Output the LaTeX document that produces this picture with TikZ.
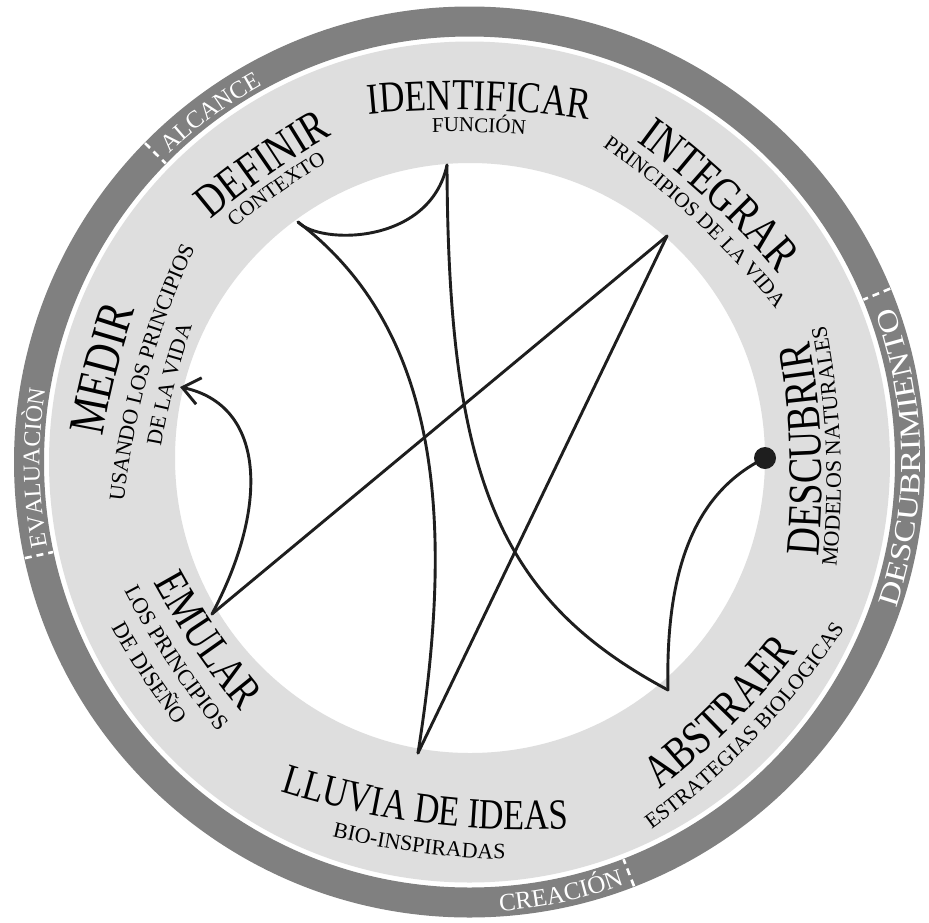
\documentclass[tikz,border=0pt]{standalone}
\usepackage{fontspec}
\setmainfont{Liberation Serif}
\newfontfamily\condf[FakeStretch=0.8]{Liberation Serif}
\newfontfamily\widef[FakeStretch=1.2]{Liberation Serif}
\usetikzlibrary{calc,decorations.text,arrows.meta}
\definecolor{ringdark}{HTML}{808080}
\definecolor{ringlight}{HTML}{DEDEDE}
\definecolor{ink}{HTML}{1E1E1E}
% #1 angle, #2 baseline radius, #3 dir (1 = clockwise, tops outward; -1 = ccw, tops inward),
% #4 half span, #5 curvature radius, #6 format, #7 text
\newcommand\arclabel[7]{%
  \pgfmathsetmacro\aS{#1+#3*#4}%
  \pgfmathsetmacro\aE{#1-#3*#4}%
  \path[decorate,decoration={text along path,text align=center,text={|#6|#7}}]
    ($(C)+(#1:#2-#5)+(\aS:#5)$) arc[start angle=\aS,end angle=\aE,radius=#5];
}
\newcommand\sepmark[1]{%
  \draw[sepst] ($(C)+(#1:455)$) -- ($(C)+(#1:426)$);
}
\begin{document}
\begin{tikzpicture}[x=1pt,y=1pt,
  conn/.style={ink,line width=2.9pt,line cap=round},
  sepst/.style={white,line width=2.6pt,dash pattern=on 7pt off 5pt},
  dotst/.style={circle,fill=ink,minimum size=22pt,inner sep=0pt}]
\useasboundingbox (0,0) rectangle (929,-922);
\fill[white] (0,0) rectangle (929,-922);
\coordinate (C) at (469.5,-462);
\coordinate (Ci) at (470,-458);
% rings
\fill[ringdark,even odd rule] (C) circle (455.5) (C) circle (425.5);
\fill[ringlight,even odd rule] (C) circle (420.5) (Ci) circle (295);
% separators
\sepmark{135.5}
\sepmark{22.4}
\sepmark{-68.8}
\sepmark{192.2}
% ring labels
\arclabel{126.5}{430}{1}{30}{430}{\color{white}\fontsize{24.5}{28}\selectfont}{ALCANCE}
\arclabel{180.8}{430}{1}{30}{430}{\color{white}\fontsize{24}{28}\selectfont}{EVALUACIÒN}
\arclabel{-78}{450}{-1}{30}{450}{\color{white}\fontsize{25}{28}\selectfont}{CREACIÓN}
\arclabel{0.6}{451}{-1}{40}{451}{\color{white}\widef\fontsize{29}{32}\selectfont}{DESCUBRIMIENTO}
% stage labels
\arclabel{88.5}{352}{1}{16}{900}{\condf\fontsize{44}{48}\selectfont}{IDENTIFICAR}
\arclabel{88.4}{330}{1}{16}{900}{\fontsize{21}{24}\selectfont}{FUNCIÓN}
\arclabel{124.8}{350}{1}{16}{800}{\condf\fontsize{47}{52}\selectfont}{DEFINIR}
\arclabel{125.3}{329}{1}{16}{800}{\fontsize{21}{24}\selectfont}{CONTEXTO}
\arclabel{47}{354}{1}{16}{800}{\condf\fontsize{48}{52}\selectfont}{INTEGRAR}
\arclabel{46.8}{330}{1}{16}{800}{\fontsize{21}{24}\selectfont}{PRINCIPIOS DE LA VIDA}
\arclabel{165.8}{364}{1}{16}{800}{\condf\fontsize{51}{56}\selectfont}{MEDIR}
\arclabel{164.3}{333}{1}{16}{800}{\fontsize{22}{26}\selectfont}{USANDO LOS PRINCIPIOS}
\arclabel{165.5}{305}{1}{16}{800}{\fontsize{22}{26}\selectfont}{DE LA VIDA}
\arclabel{2.2}{352}{-1}{16}{800}{\condf\fontsize{48}{52}\selectfont}{DESCUBRIR}
\arclabel{2.5}{371}{-1}{16}{800}{\fontsize{22}{26}\selectfont}{MODELOS NATURALES}
\arclabel{-44.9}{372}{-1}{16}{800}{\condf\fontsize{47}{52}\selectfont}{ABSTRAER}
\arclabel{-43.8}{398}{-1}{16}{800}{\fontsize{21.5}{25}\selectfont}{ESTRATEGIAS BIOLOGICAS}
\arclabel{-97.4}{364}{-1}{16}{800}{\condf\fontsize{43}{48}\selectfont}{LLUVIA DE IDEAS}
\arclabel{-97.5}{394}{-1}{16}{800}{\fontsize{22}{26}\selectfont}{BIO-INSPIRADAS}
\arclabel{-145.8}{333}{-1}{16}{800}{\condf\fontsize{46}{50}\selectfont}{EMULAR}
\arclabel{-146.3}{363}{-1}{16}{800}{\fontsize{22.5}{26}\selectfont}{LOS PRINCIPIOS}
\arclabel{-146.6}{392}{-1}{16}{800}{\fontsize{22.5}{26}\selectfont}{DE DISEÑO}
% connector end points
\coordinate (def) at (298,-222);
\coordinate (ide) at (447,-165);
\coordinate (int) at (667,-236);
\coordinate (abs) at (668,-690);
\coordinate (llu) at (418,-753);
\coordinate (emu) at (212,-614);
\coordinate (med) at (180,-387);
\node[dotst] (des) at (765,-458) {};
% connectors
\draw[conn] (def) .. controls (320,-245) and (430,-245) .. (ide);
\draw[conn] (ide) .. controls (448,-480) and (500,-600) .. (abs);
\draw[conn] (def) .. controls (440,-330) and (455,-520) .. (llu);
\draw[conn] (int) -- (emu);
\draw[conn] (int) -- (llu);
\draw[conn] (des.center) .. controls (700,-490) and (665,-560) .. (abs);
\draw[conn,-{Straight Barb[length=17pt,width=27pt]}] (emu) .. controls (270,-505) and (265,-405) .. (med);
\end{tikzpicture}
\end{document}
